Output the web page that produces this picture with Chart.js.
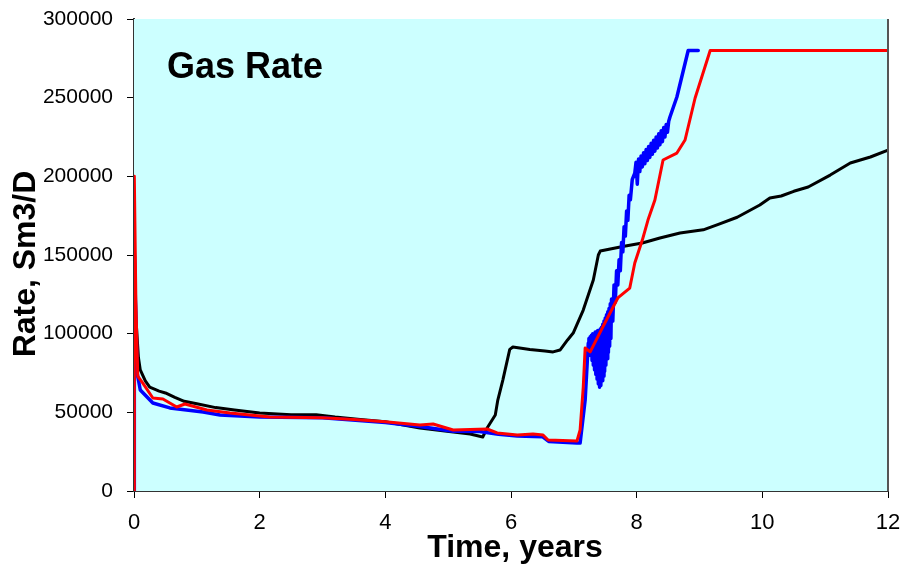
<!DOCTYPE html>
<html>
<head>
<meta charset="utf-8">
<title>Gas Rate</title>
<script src="https://cdn.jsdelivr.net/npm/chart.js@4.4.0/dist/chart.umd.min.js"></script>
<style>
    body { margin: 0; background: #fff; }
    #wrap { width: 901px; height: 572px; }
</style>
</head>
<body>
<div id="wrap"><canvas id="gas-chart" width="901" height="572"></canvas></div>
<script>
// time in years, rate in Sm3/D
const blackT = [0, 0.005, 0.03, 0.07, 0.1, 0.18, 0.25, 0.4, 0.5, 0.65, 0.8, 1.0, 1.3, 1.6, 2.0, 2.5, 2.9, 3.2, 3.6, 4.0, 4.55, 5.08, 5.35, 5.55, 5.63, 5.75, 5.79, 5.87, 5.98, 6.03, 6.3, 6.54, 6.67, 6.78, 6.9, 6.99, 7.15, 7.31, 7.39, 7.42, 7.6, 7.8, 8.09, 8.37, 8.69, 9.06, 9.3, 9.6, 9.96, 10.12, 10.3, 10.5, 10.73, 11.08, 11.4, 11.72, 12];
const blackQ = [0, 160000, 110000, 85000, 77000, 70000, 66000, 63500, 62300, 59500, 57000, 55500, 53000, 51500, 49600, 48500, 48500, 47000, 45500, 44000, 40000, 37500, 36200, 34300, 40700, 48300, 57800, 70500, 90000, 91500, 90000, 89000, 88400, 89600, 96000, 100400, 115000, 134100, 150000, 152500, 154000, 155500, 157600, 160800, 164000, 166000, 169500, 174000, 181800, 186200, 187500, 190500, 193200, 200800, 208500, 212300, 216700];

const redT = [0, 0.005, 0.03, 0.06, 0.14, 0.3, 0.46, 0.68, 0.81, 1.16, 1.53, 2.16, 3.0, 3.5, 4.0, 4.55, 4.76, 5.08, 5.62, 5.78, 6.1, 6.35, 6.51, 6.59, 7.05, 7.1, 7.15, 7.18, 7.26, 7.46, 7.7, 7.89, 7.97, 8.09, 8.18, 8.29, 8.42, 8.64, 8.77, 8.93, 9.17, 12];
const redQ = [0, 200000, 120000, 73000, 68600, 59100, 58500, 53400, 55300, 51500, 49600, 47000, 46500, 45500, 44000, 41900, 42600, 38800, 39400, 36900, 35600, 36200, 35600, 32400, 31800, 38800, 66100, 90900, 88400, 104200, 122700, 129000, 144900, 159500, 172200, 185000, 210400, 214800, 223100, 249800, 280000, 280000];

const blueT = [0, 0.005, 0.05, 0.1, 0.3, 0.57, 1.1, 1.37, 2.0, 3.0, 4.0, 4.55, 5.08, 5.5, 5.8, 6.1, 6.5, 6.6, 7.05, 7.1, 7.18, 7.23,
    7.24, 7.25, 7.26, 7.27, 7.28, 7.29, 7.30, 7.31, 7.32, 7.33, 7.34, 7.35, 7.36, 7.37, 7.38, 7.39, 7.40, 7.41, 7.42, 7.43, 7.44, 7.45, 7.46, 7.47, 7.48, 7.49, 7.50,
    7.51, 7.52, 7.53, 7.54, 7.55, 7.56, 7.57, 7.58, 7.59, 7.60, 7.62, 7.64, 7.66, 7.68, 7.70, 7.72, 7.74, 7.76, 7.78, 7.80, 7.82, 7.84, 7.86, 7.88, 7.90, 7.93, 7.97,
    7.99, 8.01, 8.03, 8.05, 8.07, 8.09, 8.11, 8.13, 8.15, 8.17, 8.19, 8.21, 8.23, 8.25, 8.27, 8.29, 8.31, 8.33, 8.35, 8.37, 8.39, 8.41, 8.43, 8.45, 8.47, 8.49, 8.51,
    8.53, 8.64, 8.82, 8.98];
const blueQ = [0, 150000, 75000, 64200, 55900, 52800, 50200, 48300, 47000, 46500, 43500, 41000, 38000, 37800, 36000, 35000, 34500, 31500, 30500, 30500, 57800, 94000,
    97000, 90000, 98000, 86000, 99000, 83000, 100000, 80000, 100000, 77000, 101000, 74000, 101000, 71000, 102000, 68000, 102000, 66000, 103000, 67000, 104000, 70000, 106000, 73000, 108000, 76000, 110000,
    80000, 112000, 84000, 114000, 88000, 116000, 92000, 119000, 97000, 122000, 108000, 131000, 120000, 140000, 131000, 147000, 140000, 158000, 152000, 168000, 162000, 178000, 172000, 188000, 185000, 198000, 202000,
    209000, 195000, 211000, 203000, 213000, 206000, 215000, 208000, 217000, 210000, 219000, 212000, 221000, 214000, 223000, 216000, 225000, 218000, 227000, 220000, 229000, 222000, 231000, 225000, 233000, 228000, 235000,
    237700, 250400, 280000, 280000];

const xTicks = [0, 2, 4, 6, 8, 10, 12];
const yTicks = [0, 50000, 100000, 150000, 200000, 250000, 300000];

const FONT = '"Liberation Sans", Arial, sans-serif';

function toPoints(ts, qs) {
    return ts.map((t, i) => ({ x: t, y: qs[i] }));
}

// cyan plot background, frame and the three titles
const decorations = {
    id: 'decorations',
    beforeDatasetsDraw(chart) {
        const { ctx, chartArea: a } = chart;
        ctx.save();
        ctx.fillStyle = '#ccffff';
        ctx.fillRect(a.left, a.top, a.right - a.left, a.bottom - a.top);
        ctx.restore();
    },
    afterDraw(chart) {
        const { ctx, chartArea: a } = chart;
        ctx.save();
        ctx.strokeStyle = '#555';
        ctx.lineWidth = 2;
        ctx.beginPath();
        ctx.moveTo(a.right, a.top);
        ctx.lineTo(a.right, a.bottom);
        ctx.stroke();

        ctx.fillStyle = '#000';
        ctx.font = 'bold 36px ' + FONT;
        ctx.textAlign = 'left';
        ctx.textBaseline = 'alphabetic';
        ctx.fillText('Gas Rate', 167, 78);

        ctx.font = 'bold 32px ' + FONT;
        ctx.textAlign = 'center';
        ctx.fillText('Time, years', 515, 557);

        ctx.translate(35, 264);
        ctx.rotate(-Math.PI / 2);
        ctx.fillText('Rate, Sm3/D', 0, 0);
        ctx.restore();
    }
};

new Chart(document.getElementById('gas-chart').getContext('2d'), {
    type: 'line',
    data: {
        datasets: [{
            label: 'Red',
            data: toPoints(redT, redQ),
            borderColor: '#ff0000',
            borderWidth: 3,
            order: 0
        }, {
            label: 'Blue',
            data: toPoints(blueT, blueQ),
            borderColor: '#0000ff',
            borderWidth: 3.5,
            order: 1
        }, {
            label: 'Black',
            data: toPoints(blackT, blackQ),
            borderColor: '#000000',
            borderWidth: 3,
            order: 2
        }]
    },
    options: {
        responsive: false,
        animation: false,
        parsing: false,
        elements: {
            point: { radius: 0 },
            line: { tension: 0, fill: false, borderJoinStyle: 'round', borderCapStyle: 'round' }
        },
        layout: { padding: { top: 19, right: 13, left: 0, bottom: 0 } },
        plugins: {
            legend: { display: false },
            tooltip: { enabled: false }
        },
        scales: {
            x: {
                type: 'linear',
                min: 0,
                max: 12,
                afterBuildTicks: scale => { scale.ticks = xTicks.map(v => ({ value: v })); },
                afterFit: scale => {
                    scale.height = 81;
                    scale.paddingLeft = 0;
                    scale.paddingRight = 0;
                },
                ticks: {
                    color: '#000',
                    padding: 12,
                    maxRotation: 0,
                    font: { family: FONT, size: 22 }
                },
                grid: {
                    drawOnChartArea: false,
                    color: '#000',
                    tickLength: 7
                },
                border: { color: '#333', width: 2 }
            },
            y: {
                min: 0,
                max: 300000,
                afterBuildTicks: scale => { scale.ticks = yTicks.map(v => ({ value: v })); },
                afterFit: scale => {
                    scale.width = 134;
                    scale.paddingTop = 0;
                    scale.paddingBottom = 0;
                },
                ticks: {
                    color: '#000',
                    padding: 14,
                    callback: v => String(v),
                    font: { family: FONT, size: 21 }
                },
                grid: {
                    color: '#000',
                    lineWidth: 1,
                    tickLength: 7
                },
                border: { color: '#333', width: 2 }
            }
        }
    },
    plugins: [decorations]
});
</script>
</body>
</html>
